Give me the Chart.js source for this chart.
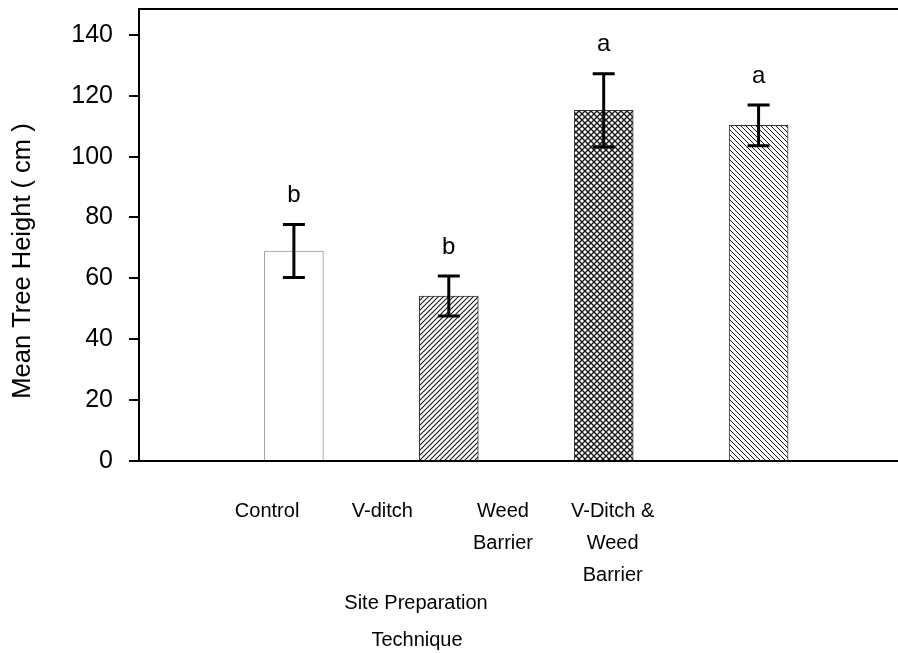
<!DOCTYPE html>
<html>
<head>
<meta charset="utf-8">
<script src="https://cdn.jsdelivr.net/npm/chart.js@4"></script>
<style>
  body { margin: 0; background: #fff; }
  canvas { display: block; }
</style>
</head>
<body>
<canvas id="chart" width="898" height="653"></canvas>
<script>
// data
const categories = ['Control', 'V-ditch', 'Weed Barrier', 'V-Ditch & Weed Barrier'];
const tickLabels = [['Control'], ['V-ditch'], ['Weed', 'Barrier'], ['V-Ditch &', 'Weed', 'Barrier']];
const means = [69, 54.2, 115.2, 110.3];
const errors = [8.7, 6.6, 12, 6.7];
const letters = ['b', 'b', 'a', 'a'];
const yTicks = [0, 20, 40, 60, 80, 100, 120, 140];

// label positions on the x scale (labels sit left of the bars in the original)
const labelPos = [0.827, 1.571, 2.35, 3.058];

const FONT = "'Liberation Sans', Arial, Helvetica, sans-serif";

// hatch patterns
function makePattern(size, draw) {
  const c = document.createElement('canvas');
  c.width = size; c.height = size;
  const g = c.getContext('2d');
  g.fillStyle = '#fff';
  g.fillRect(0, 0, size, size);
  g.strokeStyle = '#1a1a1a';
  draw(g, size);
  return g.createPattern(c, 'repeat');
}
function fwd(g, s) { // "/"
  g.beginPath();
  g.moveTo(-1, s + 1); g.lineTo(s + 1, -1);
  g.moveTo(-1, 1); g.lineTo(1, -1);
  g.moveTo(s - 1, s + 1); g.lineTo(s + 1, s - 1);
  g.stroke();
}
function back(g, s) { // "\"
  g.beginPath();
  g.moveTo(-1, -1); g.lineTo(s + 1, s + 1);
  g.moveTo(s - 1, -1); g.lineTo(s + 1, 1);
  g.moveTo(-1, s - 1); g.lineTo(1, s + 1);
  g.stroke();
}
const patV = makePattern(5, (g, s) => { g.lineWidth = 1.1; fwd(g, s); });
const patW = makePattern(6, (g, s) => { g.lineWidth = 1.4; fwd(g, s); back(g, s); });
const patVW = makePattern(5, (g, s) => { g.lineWidth = 1; back(g, s); });

const fills = ['#ffffff', patV, patW, patVW];
const borders = ['#9a9a9a', '#333', '#333', '#333'];

const extras = {
  id: 'extras',
  afterDatasetsDraw(chart) {
    const ctx = chart.ctx;
    const xs = chart.scales.x, ys = chart.scales.y;
    const area = chart.chartArea;
    ctx.save();
    // top border
    ctx.strokeStyle = '#000';
    ctx.lineWidth = 2;
    ctx.beginPath();
    ctx.moveTo(area.left, area.top);
    ctx.lineTo(area.right, area.top);
    ctx.stroke();
    // error bars and letters
    ctx.lineWidth = 3;
    ctx.font = '24px ' + FONT;
    ctx.fillStyle = '#000';
    ctx.textAlign = 'center';
    ctx.textBaseline = 'middle';
    means.forEach((m, i) => {
      const px = xs.getPixelForValue(i + 1);
      const top = ys.getPixelForValue(m + errors[i]);
      const bot = ys.getPixelForValue(m - errors[i]);
      ctx.beginPath();
      ctx.moveTo(px, top); ctx.lineTo(px, bot);
      ctx.moveTo(px - 11, top); ctx.lineTo(px + 11, top);
      ctx.moveTo(px - 11, bot); ctx.lineTo(px + 11, bot);
      ctx.stroke();
      ctx.fillText(letters[i], px, top - 29);
    });
    ctx.restore();
  },
  afterDraw(chart) {
    const ctx = chart.ctx;
    ctx.save();
    ctx.fillStyle = '#000';
    ctx.textAlign = 'center';
    ctx.textBaseline = 'middle';
    // x title
    ctx.font = '20px ' + FONT;
    ctx.fillText('Site Preparation', 416, 603);
    ctx.fillText('Technique', 417, 640);
    // y title
    ctx.translate(23, 261);
    ctx.rotate(-Math.PI / 2);
    ctx.font = '25.5px ' + FONT;
    ctx.fillText('Mean Tree Height ( cm )', 0, 0);
    ctx.restore();
  }
};

new Chart(document.getElementById('chart'), {
  type: 'bar',
  data: {
    datasets: [{
      label: 'Mean Tree Height',
      data: means.map((m, i) => ({ x: i + 1, y: m })),
      backgroundColor: fills,
      borderColor: borders,
      borderWidth: 1,
      barThickness: 59
    }]
  },
  options: {
    responsive: false,
    animation: false,
    layout: { padding: { top: 9, right: 0, left: 0, bottom: 0 } },
    plugins: {
      legend: { display: false },
      tooltip: { enabled: false }
    },
    scales: {
      x: {
        type: 'linear',
        offset: false,
        min: 0,
        max: 4.9,
        afterBuildTicks: axis => { axis.ticks = labelPos.map(v => ({ value: v })); },
        afterFit: axis => { axis.height = 192; axis.paddingLeft = 0; axis.paddingRight = 0; },
        grid: { display: false },
        border: { display: true, color: '#000', width: 2 },
        ticks: {
          autoSkip: false,
          maxRotation: 0,
          padding: 26,
          color: '#000',
          font: { family: FONT, size: 20, lineHeight: 1.6 },
          callback: (v, i) => tickLabels[i]
        }
      },
      y: {
        min: 0,
        max: 148.5,
        afterBuildTicks: axis => { axis.ticks = yTicks.map(v => ({ value: v })); },
        afterFit: axis => { axis.width = 139; axis.paddingTop = 0; axis.paddingBottom = 0; },
        grid: { drawOnChartArea: false, drawTicks: true, tickLength: 10, color: '#000', lineWidth: 2 },
        border: { display: true, color: '#000', width: 2 },
        ticks: {
          padding: 16,
          color: '#000',
          font: { family: FONT, size: 25 }
        }
      }
    }
  },
  plugins: [extras]
});
</script>
</body>
</html>
